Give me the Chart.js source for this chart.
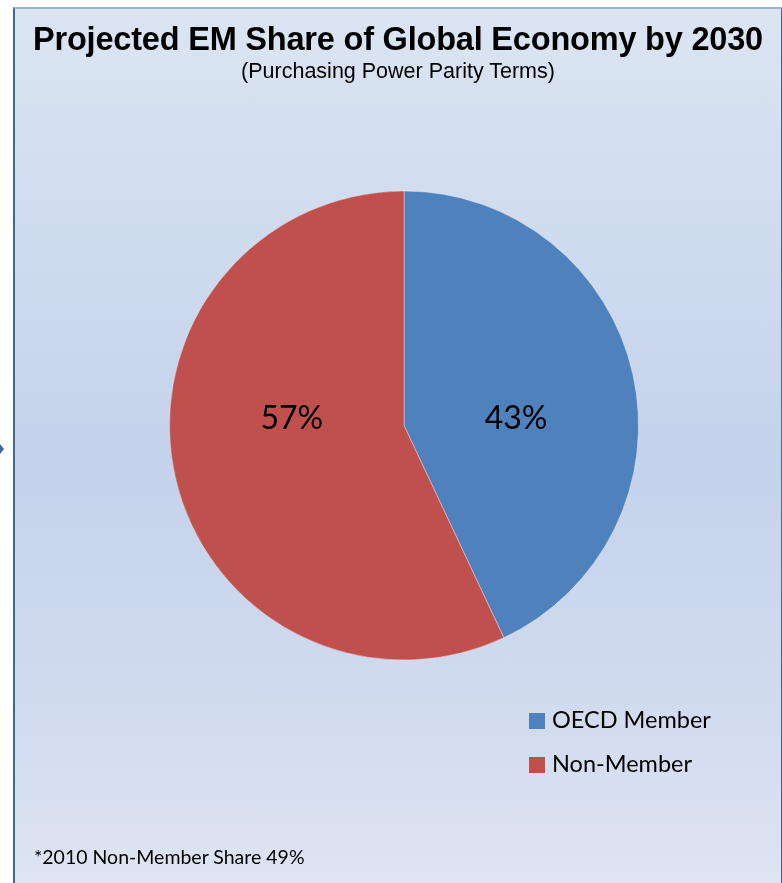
<!DOCTYPE html>
<html>
<head>
<meta charset="utf-8">
<script src="https://cdn.jsdelivr.net/npm/chart.js@4.4.1/dist/chart.umd.min.js"></script>
<style>
  html, body { margin: 0; padding: 0; width: 782px; height: 883px; overflow: hidden; background: #fff; }
  #frame {
    position: absolute; left: 13px; top: 7px; width: 766px; height: 900px;
    border-left: 2px solid #3d679e; border-right: 2px solid #3d679e; border-top: 2px solid #9cb2cf;
    background: linear-gradient(to bottom, #dbe5f2 0%, #d2ddef 20%, #c4d2eb 50%, #d3dcef 80%, #dfe6f3 100%);
  }
  #arrow {
    position: absolute; left: 0; top: 444px; width: 0; height: 0;
    border-top: 5px solid transparent; border-bottom: 5px solid transparent; border-left: 4px solid #3d679e;
  }
  canvas { position: absolute; left: 0; top: 0; }
  .title {
    position: absolute; left: 0; width: 796px; text-align: center; color: #000;
    font-family: "Liberation Sans", Arial, sans-serif; white-space: nowrap;
  }
  #t1 { top: 21px; font-size: 32.5px; font-weight: bold; letter-spacing: -0.2px; }
  #t2 { top: 59px; font-size: 21.5px; }
  .leg { position: absolute; left: 529px; font-family: Lato, "Open Sans", sans-serif; font-size: 23.5px; color: #000; line-height: 24px; }
  .leg span { display: inline-block; width: 16px; height: 16px; margin-right: 7px; vertical-align: -1px; }
  #foot { position: absolute; left: 34px; top: 845px; font-family: Lato, "Open Sans", sans-serif; font-size: 19.5px; color: #000; }
</style>
</head>
<body>
<div id="frame"></div>
<div id="arrow"></div>
<canvas id="pie" width="782" height="883"></canvas>
<div class="title" id="t1">Projected EM Share of Global Economy by 2030</div>
<div class="title" id="t2">(Purchasing Power Parity Terms)</div>
<div id="legend"></div>
<div id="foot">*2010 Non-Member Share 49%</div>
<script>
const labels = ["OECD Member", "Non-Member"];
const shares = [43, 57];
const colors = ["#4f81bd", "#c0504d"];

// legend in the lower right corner
const legendBox = document.getElementById("legend");
labels.forEach((name, i) => {
  const row = document.createElement("div");
  row.className = "leg";
  row.style.top = (707 + i * 44) + "px";
  row.innerHTML = `<span style="background:${colors[i]}"></span>${name}`;
  legendBox.appendChild(row);
});

// percentage labels drawn inside each slice
const pctLabels = {
  id: "pctLabels",
  afterDatasetsDraw(chart) {
    const { ctx } = chart;
    const meta = chart.getDatasetMeta(0);
    ctx.save();
    ctx.font = "32px Lato, 'Open Sans', sans-serif";
    ctx.fillStyle = "#000";
    ctx.textAlign = "center";
    ctx.textBaseline = "middle";
    meta.data.forEach((arc, i) => {
      const mid = (arc.startAngle + arc.endAngle) / 2;
      const d = arc.outerRadius * 0.49;
      const x = arc.x + Math.cos(mid) * d;
      const y = arc.y - arc.outerRadius * 0.03;
      ctx.fillText(shares[i] + "%", x, y);
    });
    ctx.restore();
  }
};

new Chart(document.getElementById("pie"), {
  type: "pie",
  data: {
    labels: labels,
    datasets: [{
      data: shares,
      backgroundColor: colors,
      borderColor: "rgba(255,255,255,0.35)",
      borderWidth: 1
    }]
  },
  options: {
    responsive: false,
    animation: false,
    layout: { padding: { left: 169, top: 190, right: 143, bottom: 222 } },
    plugins: {
      legend: { display: false },
      title: { display: false },
      tooltip: { enabled: false }
    }
  },
  plugins: [pctLabels]
});
</script>
</body>
</html>
